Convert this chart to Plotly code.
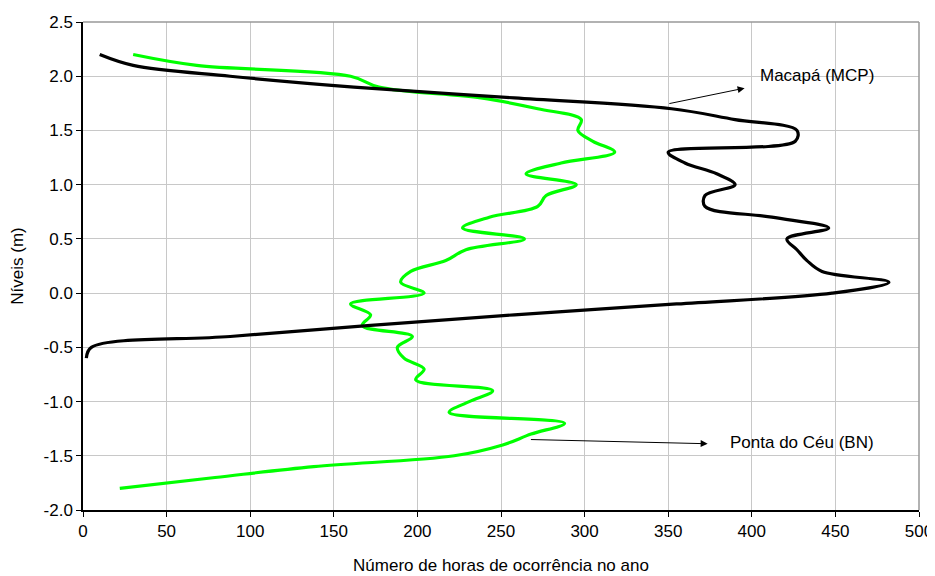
import plotly.graph_objects as go

# Levels (m)
levels_mcp = [2.2, 2.1, 2.0, 1.9, 1.8, 1.7, 1.6, 1.5, 1.4, 1.3, 1.2, 1.1, 1.0, 0.9, 0.8,
              0.7, 0.6, 0.5, 0.4, 0.3, 0.2, 0.1, 0.0, -0.1, -0.2, -0.3, -0.4, -0.5, -0.6]
hours_mcp = [10, 30, 88, 162, 258, 352, 390, 427, 426, 350, 360, 379, 390, 372, 372,
             412, 446, 421, 427, 433, 442, 482, 448, 355, 258, 170, 88, 5, 2]

levels_bn = [2.2, 2.1, 2.0, 1.9, 1.8, 1.7, 1.6, 1.5, 1.4, 1.3, 1.2, 1.1, 1.0, 0.9, 0.8,
             0.7, 0.6, 0.5, 0.4, 0.3, 0.2, 0.1, 0.0, -0.1, -0.2, -0.3, -0.4, -0.5, -0.6,
             -0.7, -0.8, -0.9, -1.0, -1.1, -1.2, -1.3, -1.4, -1.5, -1.6, -1.7, -1.8]
hours_bn = [30, 68, 160, 177, 238, 272, 298, 296, 305, 318, 286, 265, 295, 277, 272,
            243, 227, 264, 229, 217, 196, 190, 204, 160, 172, 167, 197, 188, 192,
            204, 199, 245, 231, 219, 288, 268, 251, 222, 138, 79, 22]

x_ticks = [0, 50, 100, 150, 200, 250, 300, 350, 400, 450, 500]
y_ticks = [2.5, 2.0, 1.5, 1.0, 0.5, 0.0, -0.5, -1.0, -1.5, -2.0]

FONT = "Liberation Sans, Arial, sans-serif"

fig = go.Figure()
fig.add_trace(go.Scatter(x=hours_bn, y=levels_bn, mode="lines", name="Ponta do Céu (BN)",
                         line=dict(color="#00ff00", width=3.2, shape="spline", smoothing=1.0)))
fig.add_trace(go.Scatter(x=hours_mcp, y=levels_mcp, mode="lines", name="Macapá (MCP)",
                         line=dict(color="#000000", width=3.2, shape="spline", smoothing=1.0)))

# arrows
fig.add_annotation(x=395.7, y=1.89, ax=349.8, ay=1.745, axref="x", ayref="y",
                   xref="x", yref="y", text="", showarrow=True,
                   arrowhead=2, arrowsize=1.4, arrowwidth=1, arrowcolor="black")
fig.add_annotation(x=373.6, y=-1.389, ax=267, ay=-1.35, axref="x", ayref="y",
                   xref="x", yref="y", text="", showarrow=True,
                   arrowhead=2, arrowsize=1.4, arrowwidth=1, arrowcolor="black")
fig.add_annotation(x=404, y=2.01, xref="x", yref="y", text="Macapá (MCP)", showarrow=False,
                   xanchor="left", yanchor="middle", font=dict(family=FONT, size=17, color="black"))
fig.add_annotation(x=386, y=-1.378, xref="x", yref="y", text="Ponta do Céu (BN)", showarrow=False,
                   xanchor="left", yanchor="middle", font=dict(family=FONT, size=17, color="black"))

# top/right gray frame
fig.add_shape(type="line", xref="paper", yref="paper", x0=0, x1=1, y0=1, y1=1,
              line=dict(color="#999999", width=1.5))
fig.add_shape(type="line", xref="paper", yref="paper", x0=1, x1=1, y0=0, y1=1,
              line=dict(color="#999999", width=1.5))

# page has an 8px body margin, so the figure is sized/offset to compensate
fig.update_layout(
    width=927, height=568,
    margin=dict(l=75, r=16, t=14, b=66, autoexpand=False),
    paper_bgcolor="white", plot_bgcolor="white",
    showlegend=False,
    font=dict(family=FONT, size=17, color="black"),
)
fig.update_xaxes(range=[0, 500], tickvals=x_ticks, ticktext=[str(v) for v in x_ticks],
                 showgrid=True, gridcolor="#c8c8c8", gridwidth=1,
                 showline=True, linecolor="black", linewidth=1.5,
                 ticks="outside", ticklen=5, tickcolor="black",
                 zeroline=False, automargin=False,
                 tickfont=dict(family=FONT, size=17),
                 title=dict(text="Número de horas de ocorrência no ano",
                            font=dict(family=FONT, size=17), standoff=19))
fig.update_yaxes(range=[-2.0, 2.5], tickvals=y_ticks, ticktext=[f"{v:.1f}" for v in y_ticks],
                 showgrid=True, gridcolor="#c8c8c8", gridwidth=1,
                 showline=True, linecolor="black", linewidth=1.5,
                 ticks="outside", ticklen=5, tickcolor="black",
                 zeroline=False, automargin=False,
                 tickfont=dict(family=FONT, size=17),
                 title=dict(text="Níveis (m)", font=dict(family=FONT, size=17), standoff=16))

fig.write_html("out.html")
